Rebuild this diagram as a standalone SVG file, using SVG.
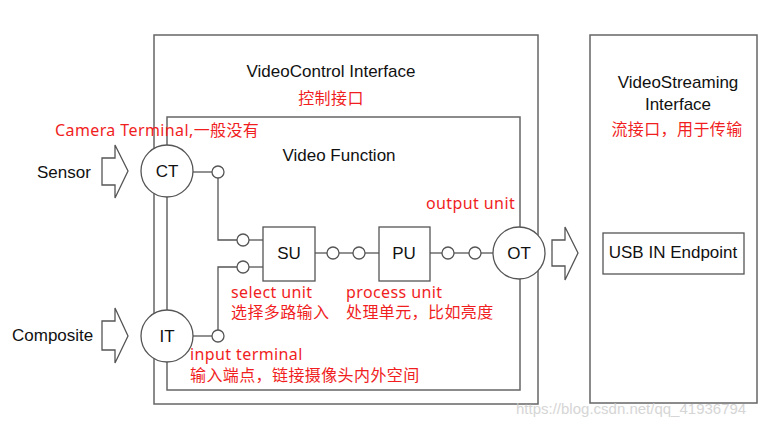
<svg xmlns="http://www.w3.org/2000/svg" width="772" height="426" viewBox="0 0 772 426">
<style>
.box{fill:none;stroke:#666;stroke-width:1.5}
.nb{fill:#fff;stroke:#555;stroke-width:1.3}
.ln{fill:none;stroke:#555;stroke-width:1.3}
.sc{fill:#fff;stroke:#555;stroke-width:1.3}
.t{font-family:"Liberation Sans",Arial,sans-serif;font-size:17px;fill:#111}
.c{text-anchor:middle}
.r{font-family:"Noto Sans","Noto Sans CJK SC",sans-serif;font-size:16px;fill:#f01e1e;letter-spacing:0.4px}
.wm{font-family:"Liberation Sans",Arial,sans-serif;font-size:15px;fill:#ccc;opacity:0.8}
</style>
<rect width="772" height="426" fill="#fff"/>
<g id="videocontrol">
<rect class="box" x="154" y="35" width="384" height="369"/>
<text class="t c" x="331" y="77">VideoControl Interface</text>
<text class="r c" x="331" y="104">控制接口</text>
</g>
<g id="videofunction">
<rect class="box" x="167" y="117" width="353" height="273"/>
<text class="t c" x="339" y="161">Video Function</text>
</g>
<g id="videostreaming">
<rect class="box" x="590" y="35" width="167" height="368"/>
<text class="t c" x="678" y="88">VideoStreaming</text>
<text class="t c" x="678" y="110">Interface</text>
<text class="r c" x="677" y="135">流接口，用于传输</text>
</g>
<g id="connectors">
<polyline class="ln" points="193,172 212,172"/>
<polyline class="ln" points="218,178 218,240 237,240"/>
<polyline class="ln" points="249,240 263,240"/>
<polyline class="ln" points="193,336 212,336"/>
<polyline class="ln" points="218,330 218,267 237,267"/>
<polyline class="ln" points="249,267 263,267"/>
<polyline class="ln" points="315,253 327,253"/>
<polyline class="ln" points="339,253 353,253"/>
<polyline class="ln" points="365,253 379,253"/>
<polyline class="ln" points="430,253 442,253"/>
<polyline class="ln" points="454,253 469,253"/>
<polyline class="ln" points="481,253 493,253"/>
<circle class="sc" cx="218" cy="172" r="6"/>
<circle class="sc" cx="243" cy="240" r="6"/>
<circle class="sc" cx="243" cy="267" r="6"/>
<circle class="sc" cx="218" cy="336" r="6"/>
<circle class="sc" cx="333" cy="253" r="6"/>
<circle class="sc" cx="359" cy="253" r="6"/>
<circle class="sc" cx="448" cy="253" r="6"/>
<circle class="sc" cx="475" cy="253" r="6"/>
<polygon class="nb" points="102,158 115,158 115,145 128,171 115,198 115,185 102,185"/>
<polygon class="nb" points="102,321 115,321 115,308 128,336 115,363 115,350 102,350"/>
<polygon class="nb" points="552,240 565,240 565,227 578,253 565,280 565,266 552,266"/>
</g>
<g id="sensor"><text class="t" x="37" y="178">Sensor</text></g>
<g id="composite"><text class="t" x="12" y="341">Composite</text></g>
<g id="ct">
<circle class="nb" cx="167" cy="171" r="26"/>
<text class="t c" x="167" y="177">CT</text>
<text class="r" x="55" y="136">Camera Terminal,一般没有</text>
</g>
<g id="it">
<circle class="nb" cx="167" cy="336" r="26"/>
<text class="t c" x="167" y="342">IT</text>
<text class="r" x="190" y="360">input terminal</text>
<text class="r" x="190" y="381">输入端点，链接摄像头内外空间</text>
</g>
<g id="su">
<rect class="nb" x="263" y="227" width="52" height="54"/>
<text class="t c" x="289" y="259">SU</text>
<text class="r" x="231" y="298">select unit</text>
<text class="r" x="231" y="318">选择多路输入</text>
</g>
<g id="pu">
<rect class="nb" x="379" y="227" width="51" height="54"/>
<text class="t c" x="404" y="259">PU</text>
<text class="r" x="346" y="298">process unit</text>
<text class="r" x="346" y="318">处理单元，比如亮度</text>
</g>
<g id="ot">
<circle class="nb" cx="519" cy="253" r="26"/>
<text class="t c" x="519" y="259">OT</text>
<text class="r" x="426" y="209">output unit</text>
</g>
<g id="usb">
<rect class="nb" x="603" y="233" width="141" height="41"/>
<text class="t c" x="673" y="258">USB IN Endpoint</text>
</g>
<text class="wm" x="516" y="414">https://blog.csdn.net/qq_41936794</text>
</svg>
